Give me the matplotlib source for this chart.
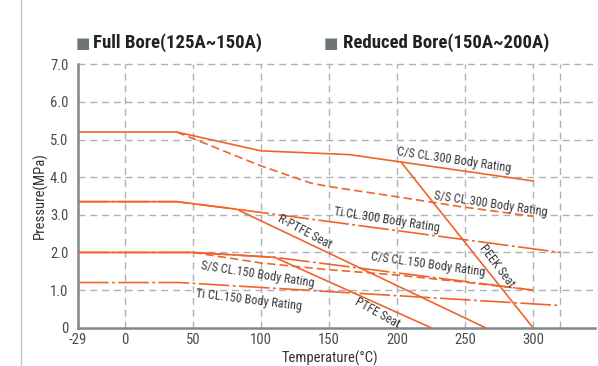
import matplotlib
matplotlib.use('Agg')
import matplotlib.pyplot as plt
from matplotlib import font_manager
from matplotlib.lines import Line2D
import numpy as np

# pick a narrow font if one is installed
names = {f.name for f in font_manager.fontManager.ttflist}
narrow = 'DejaVu Sans'
for cand in ['Liberation Sans Narrow', 'Roboto Condensed', 'Open Sans Condensed']:
    if cand in names:
        narrow = cand
        break
stretch = 'condensed' if narrow == 'DejaVu Sans' else 'normal'
plt.rcParams['font.family'] = [narrow, 'DejaVu Sans']
plt.rcParams['font.stretch'] = stretch
plt.rcParams['lines.scale_dashes'] = False

# data (temperature C, pressure MPa)
cs300_t = [-29, 38, 100, 165, 300]
cs300_p = [5.2, 5.2, 4.7, 4.6, 3.9]
ss300_t = [38, 100, 136, 150, 200, 246, 300]
ss300_p = [5.2, 4.3, 3.85, 3.75, 3.48, 3.22, 2.96]
ti300_t = [-29, 38, 82, 320]
ti300_p = [3.35, 3.35, 3.15, 2.0]
cs150_t = [-29, 50, 110, 300]
cs150_p = [2.0, 2.0, 1.87, 1.0]
ss150_t = [50, 100, 150, 200, 250, 300]
ss150_p = [2.0, 1.72, 1.54, 1.40, 1.21, 1.0]
ti150_t = [-29, 40, 320]
ti150_p = [1.2, 1.2, 0.59]
rptfe_t = [-29, 38, 82, 265]
rptfe_p = [3.35, 3.35, 3.15, 0]
ptfe_t = [-29, 50, 110, 225]
ptfe_p = [2.0, 2.0, 1.87, 0]
peek_t = [203, 300]
peek_p = [4.4, 0]

xticks = [-29, 0, 50, 100, 150, 200, 250, 300]
xgrid = [0, 50, 100, 150, 200, 250, 300, 320]
yticks = [0, 1, 2, 3, 4, 5, 6, 7]
ytick_labels = ['0', '1.0', '2.0', '3.0', '4.0', '5.0', '6.0', '7.0']

# label text, position, rotation
labels = [
    ('C/S CL.300 Body Rating', 242, 4.46, -8.5),
    ('S/S CL.300 Body Rating', 269, 3.28, -8.5),
    ('Ti CL.300 Body Rating', 192.6, 2.86, -9),
    ('R-PTFE Seat', 132, 2.54, -28),
    ('C/S CL.150 Body Rating', 222.8, 1.69, -8),
    ('S/S CL.150 Body Rating', 97.8, 1.40, -9),
    ('Ti CL.150 Body Rating', 91.2, 0.74, -7),
    ('PTFE Seat', 185.3, 0.39, -29),
    ('PEEK Seat', 273.5, 1.64, -53),
]

orange = '#f0642a'
gridc = '#adb2b5'
axc = '#7f888c'
textc = '#3a3a3a'

# the -29..0 part of the axis is stretched in the original
k = 34.56 / 29
def fwd(x):
    x = np.asarray(x, dtype=float)
    return np.where(x < 0, x * k, x)
def inv(x):
    x = np.asarray(x, dtype=float)
    return np.where(x < 0, x / k, x)

fig = plt.figure(figsize=(5.98, 3.66), dpi=100)
ax = fig.add_axes([78/598, 38.3/366, 517/598, 263.4/366])
ax.set_xscale('function', functions=(fwd, inv))
ax.set_xlim(-29, 345.6)
ax.set_ylim(0, 7)

# grid
for x in xgrid:
    ax.plot([x, x], [0, 7], color=gridc, lw=1.0, dashes=(5, 3.5), zorder=1)
for y in yticks[1:]:
    ax.plot([-29, 345.6], [y, y], color=gridc, lw=1.0, dashes=(5, 3.5), zorder=1, clip_on=False)

dd = (22, 2.5, 2, 2.5)
ax.plot(ti300_t, ti300_p, color=orange, lw=1.2, dashes=dd, zorder=3)
ax.plot(cs150_t, cs150_p, color=orange, lw=1.2, dashes=dd, zorder=3)
ax.plot(ti150_t, ti150_p, color=orange, lw=1.2, dashes=dd, zorder=3)
ax.plot(ss300_t, ss300_p, color=orange, lw=1.2, dashes=(6, 3), zorder=3)
ax.plot(ss150_t, ss150_p, color=orange, lw=1.2, dashes=(6, 3), zorder=3)
ax.plot(cs300_t, cs300_p, color=orange, lw=1.2, zorder=4)
ax.plot(rptfe_t, rptfe_p, color=orange, lw=1.2, zorder=4)
ax.plot(ptfe_t, ptfe_p, color=orange, lw=1.2, zorder=4)
ax.plot(peek_t, peek_p, color=orange, lw=1.2, zorder=4)

for txt, x, y, rot in labels:
    ax.text(x, y, txt, rotation=rot, rotation_mode='anchor', ha='center', va='center',
            fontsize=8.8, color=textc, zorder=5)

ax.set_xticks(xticks)
ax.set_xticklabels([str(t) for t in xticks])
ax.set_yticks(yticks)
ax.set_yticklabels(ytick_labels)
ax.minorticks_off()
ax.tick_params(length=0, labelsize=10.5, colors='#4a4a4a')
ax.tick_params(axis='x', pad=4)
ax.tick_params(axis='y', pad=7)
for s in ['top', 'right']:
    ax.spines[s].set_visible(False)
ax.spines['left'].set_color(axc)
ax.spines['left'].set_linewidth(1.8)
ax.spines['bottom'].set_color(axc)
ax.spines['bottom'].set_linewidth(1.8)

fig.text(40/598, 1 - 196/366, 'Pressure(MPa)', rotation=90, ha='center', va='center',
         fontsize=10.5, color='#333333')
fig.text(330/598, 1 - 358/366, 'Temperature(\u00b0C)', ha='center', va='center',
         fontsize=10.5, color='#333333')

# header entries
fig.text(83/598, 1 - 43.5/366, '\u25a0', ha='center', va='center', fontsize=11,
         color='#6d7478', family='DejaVu Sans')
fig.text(93/598, 1 - 43/366, 'Full Bore(125A~150A)', ha='left', va='center',
         fontsize=13.5, fontweight='bold', color='#222222')
fig.text(331/598, 1 - 43.5/366, '\u25a0', ha='center', va='center', fontsize=11,
         color='#6d7478', family='DejaVu Sans')
fig.text(343/598, 1 - 43/366, 'Reduced Bore(150A~200A)', ha='left', va='center',
         fontsize=13.5, fontweight='bold', color='#222222')

fig.add_artist(Line2D([21/598, 21/598], [0, 1], transform=fig.transFigure,
                      color='#c3c7c9', lw=1))

fig.savefig('out.png', dpi=100)
